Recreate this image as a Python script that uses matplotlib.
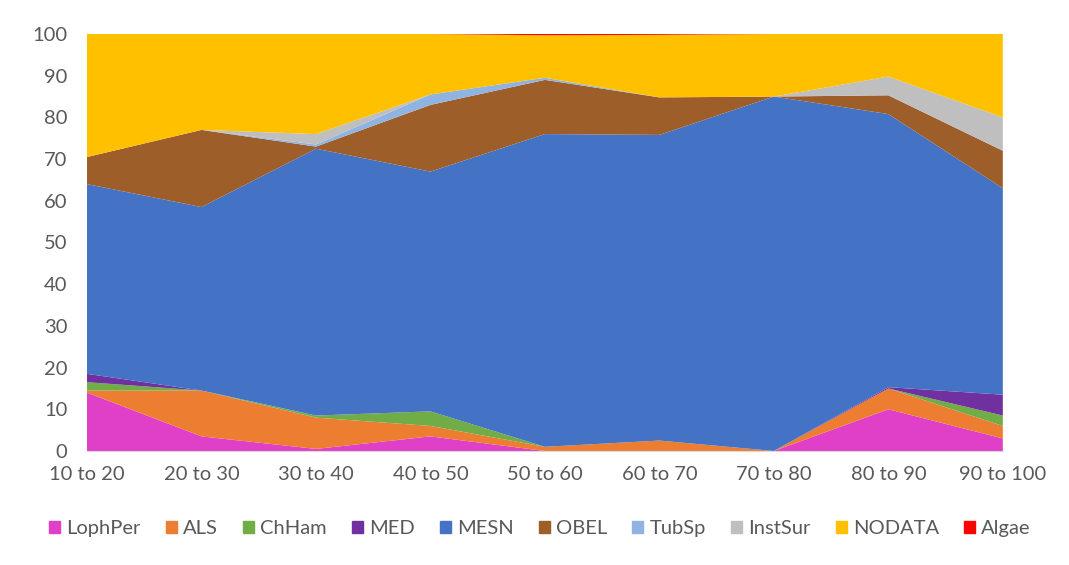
"""
plot.py — stacked area chart of cover classes per depth band
Output: out.png
"""
import matplotlib
matplotlib.use('Agg')
import matplotlib.pyplot as plt
from matplotlib.patches import Patch

CATEGORIAS = ['10 to 20', '20 to 30', '30 to 40', '40 to 50', '50 to 60',
              '60 to 70', '70 to 80', '80 to 90', '90 to 100']

LOPHPER = [14.0, 3.5, 0.5, 3.5, 0.0, 0.0, 0.0, 10.0, 3.0]
ALS     = [0.5, 11.0, 7.5, 2.5, 1.0, 2.5, 0.0, 5.0, 3.0]
CHHAM   = [2.0, 0.0, 0.5, 3.5, 0.0, 0.0, 0.0, 0.0, 2.5]
MED     = [2.0, 0.0, 0.0, 0.0, 0.0, 0.0, 0.0, 0.3, 5.0]
MESN    = [45.5, 44.0, 64.0, 57.5, 75.0, 73.3, 85.0, 65.5, 49.5]
OBEL    = [6.5, 18.5, 0.5, 16.0, 13.0, 9.0, 0.0, 4.5, 9.0]
TUBSP   = [0.0, 0.0, 0.5, 2.5, 0.5, 0.0, 0.0, 0.0, 0.0]
INSTSUR = [0.0, 0.0, 2.5, 0.0, 0.0, 0.0, 0.0, 4.5, 8.0]
NODATA  = [29.5, 23.0, 24.0, 14.5, 10.2, 15.0, 15.0, 10.2, 20.0]
ALGAE   = [0.0, 0.0, 0.0, 0.0, 0.3, 0.2, 0.0, 0.0, 0.0]

SERIES = ['LophPer', 'ALS', 'ChHam', 'MED', 'MESN', 'OBEL', 'TubSp',
          'InstSur', 'NODATA', 'Algae']
CORES = ['#E040C8', '#ED7D31', '#70AD47', '#7030A0', '#4472C4',
         '#9E5E2A', '#8FB4E3', '#BFBFBF', '#FFC000', '#FF0000']

plt.rcParams['font.family'] = ['Lato', 'DejaVu Sans']

fig = plt.figure(figsize=(10.69, 5.65), dpi=100)
ax = fig.add_axes([0.0814, 0.2018, 0.8567, 0.738])

x = list(range(len(CATEGORIAS)))
valores = [LOPHPER, ALS, CHHAM, MED, MESN, OBEL, TUBSP, INSTSUR, NODATA, ALGAE]
ax.stackplot(x, *valores, colors=CORES, linewidth=0)

ax.set_xlim(0, len(CATEGORIAS) - 1)
ax.set_ylim(0, 100)
ax.set_yticks(range(0, 101, 10))
ax.set_xticks(x)
ax.set_xticklabels(CATEGORIAS)
ax.tick_params(axis='both', length=0, labelsize=14.5, colors='#595959')
ax.tick_params(axis='x', pad=11)
ax.tick_params(axis='y', pad=14)
for s in ['top', 'right', 'left']:
    ax.spines[s].set_visible(False)
ax.spines['bottom'].set_color('#D9D9D9')

handles = [Patch(color=c, label=n) for n, c in zip(SERIES, CORES)]
fig.legend(handles=handles, loc='center', bbox_to_anchor=(0.505, 0.064),
           ncol=len(SERIES), frameon=False, fontsize=14.5,
           handlelength=0.55, handleheight=0.55, handletextpad=0.3,
           columnspacing=1.25, labelcolor='#595959')

fig.savefig('out.png', dpi=100)
